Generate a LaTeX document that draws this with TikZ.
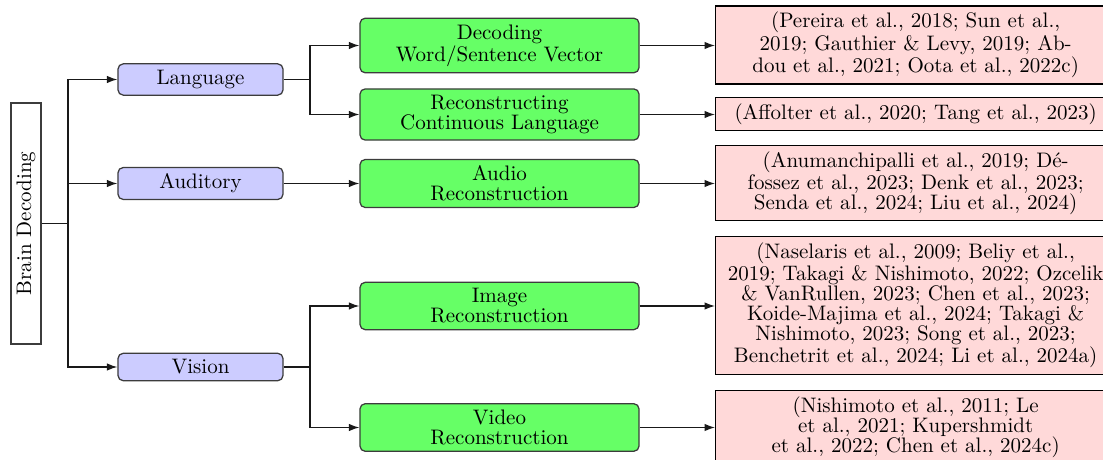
\documentclass[tikz,border=0pt]{standalone}
\usepackage{graphicx}
\usetikzlibrary{arrows.meta}
\definecolor{bordergray}{RGB}{60,60,60}
\tikzset{
  base/.style={font=\fontsize{10}{9.5}\selectfont, align=center, line width=0.6pt, inner ysep=3pt, inner xsep=2pt},
  rootbox/.style={base, draw=bordergray, fill=white, minimum width=14.3pt, minimum height=114.8pt},
  catbox/.style={base, draw=bordergray, fill=blue!20, rounded corners=2.5pt, minimum width=78.6pt},
  taskbox/.style={base, draw=bordergray, fill=green!60, rounded corners=2.5pt, minimum width=132.9pt},
  refbox/.style={base, draw=black, fill=red!15, minimum width=190.5pt},
  conn/.style={line width=0.6pt, draw=black!90},
  arr/.style={conn, -{Latex[length=5pt,width=3.6pt]}}
}
\begin{document}
\begin{tikzpicture}[x=0.47619pt, y=-0.47619pt]
\useasboundingbox (0,0) rectangle (1103,460);
% root
\node[rootbox] (brain) at (26,223.5) {\rotatebox{90}{Brain Decoding}};
% categories
\node[catbox] (lang) at (200.5,79.5) {Language};
\node[catbox] (aud) at (200.5,183.5) {Auditory};
\node[catbox] (vis) at (200.5,367) {Vision};
% tasks
\node[taskbox] (dec) at (499.5,45.5) {Decoding\\Word/Sentence Vector};
\node[taskbox] (rec) at (499.5,114.5) {Reconstructing\\Continuous Language};
\node[taskbox] (audio) at (499.5,183.5) {Audio\\Reconstruction};
\node[taskbox] (img) at (499.5,306) {Image\\Reconstruction};
\node[taskbox] (vid) at (499.5,427.5) {Video\\Reconstruction};
% references
\node[refbox, anchor=west] (r1) at (715,45) {(Pereira et al., 2018; Sun et al.,\\2019; Gauthier \& Levy, 2019; Ab-\\dou et al., 2021; Oota et al., 2022c)};
\node[refbox, anchor=west] (r2) at (715,114) {(Affolter et al., 2020; Tang et al., 2023)};
\node[refbox, anchor=west] (r3) at (715,183) {(Anumanchipalli et al., 2019; Dé-\\fossez et al., 2023; Denk et al., 2023;\\Senda et al., 2024; Liu et al., 2024)};
\node[refbox, anchor=west] (r4) at (715,305.5) {(Naselaris et al., 2009; Beliy et al.,\\2019; Takagi \& Nishimoto, 2022; Ozcelik\\\& VanRullen, 2023; Chen et al., 2023;\\Koide-Majima et al., 2024; Takagi \&\\Nishimoto, 2023; Song et al., 2023;\\Benchetrit et al., 2024; Li et al., 2024a)};
\node[refbox, anchor=west] (r5) at (715,427) {(Nishimoto et al., 2011; Le\\et al., 2021; Kupershmidt\\et al., 2022; Chen et al., 2024c)};
% junctions
\coordinate (j0) at (68,223.5);
\coordinate (jl) at (310,79.5);
\coordinate (jv) at (310,367);
% root connectors
\draw[conn] (brain.east) -- (j0);
\draw[arr] (j0) |- (lang.west);
\draw[arr] (j0) |- (aud.west);
\draw[arr] (j0) |- (vis.west);
% category connectors
\draw[conn] (lang.east) -- (jl);
\draw[arr] (jl) |- (dec.west);
\draw[arr] (jl) |- (rec.west);
\draw[arr] (aud.east) -- (audio.west);
\draw[conn] (vis.east) -- (jv);
\draw[arr] (jv) |- (img.west);
\draw[arr] (jv) |- (vid.west);
% task to reference
\draw[arr] (dec.east) -- (dec.east -| r1.west);
\draw[arr] (rec.east) -- (rec.east -| r2.west);
\draw[arr] (audio.east) -- (audio.east -| r3.west);
\draw[arr] (img.east) -- (img.east -| r4.west);
\draw[arr] (vid.east) -- (vid.east -| r5.west);
\end{tikzpicture}
\end{document}
